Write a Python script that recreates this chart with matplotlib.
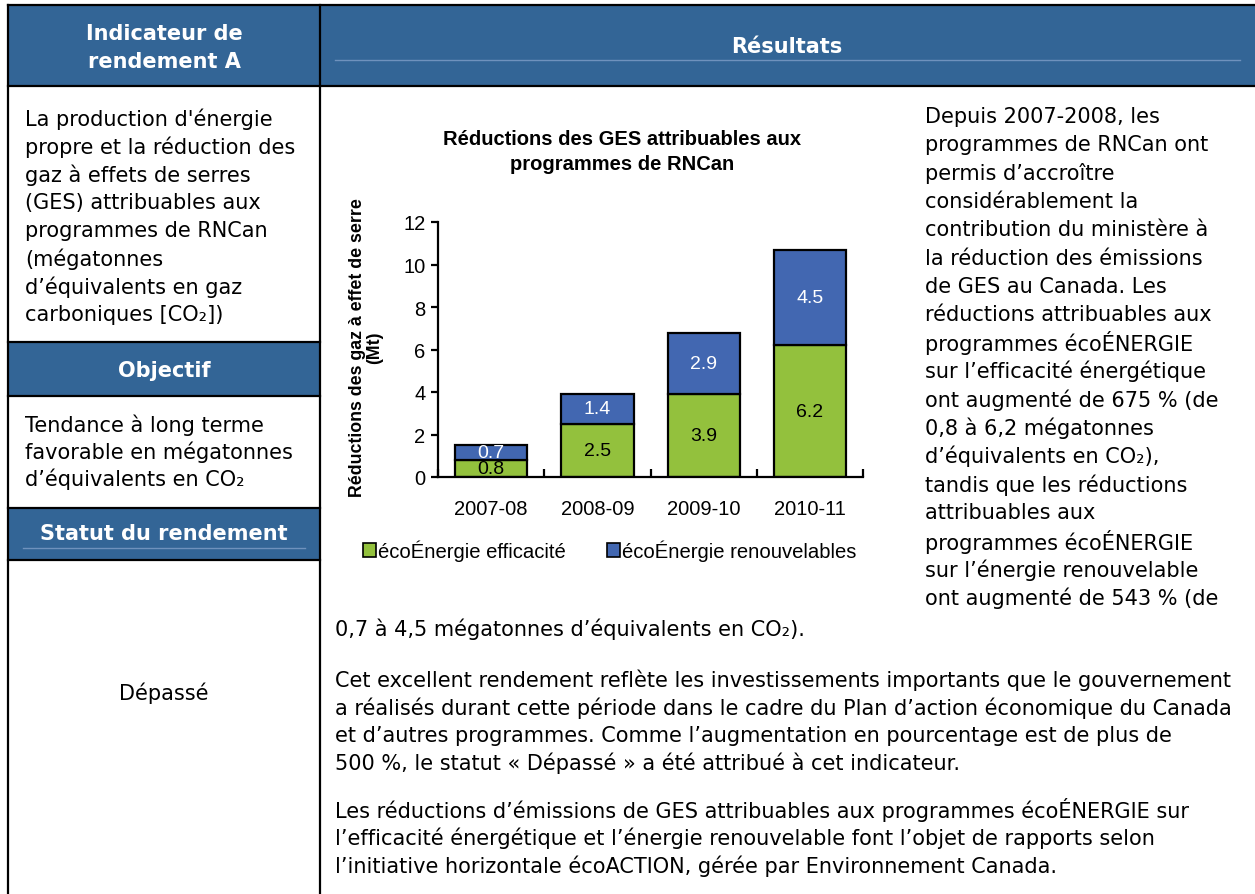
import matplotlib
matplotlib.use("Agg")
import matplotlib.pyplot as plt
from matplotlib.patches import Rectangle, Patch

# chart data
years = ["2007-08", "2008-09", "2009-10", "2010-11"]
efficacite = [0.8, 2.5, 3.9, 6.2]
renouvelables = [0.7, 1.4, 2.9, 4.5]
series_names = ["écoÉnergie efficacité", "écoÉnergie renouvelables"]
yticks = [0, 2, 4, 6, 8, 10, 12]

# table text
left_lines = ["La production d'énergie", "propre et la réduction des",
              "gaz à effets de serres", "(GES) attribuables aux",
              "programmes de RNCan", "(mégatonnes",
              "d’équivalents en gaz", "carboniques [CO₂])"]
objectif_lines = ["Tendance à long terme", "favorable en mégatonnes",
                  "d’équivalents en CO₂"]
right_lines = ["Depuis 2007-2008, les", "programmes de RNCan ont",
               "permis d’accroître", "considérablement la",
               "contribution du ministère à", "la réduction des émissions",
               "de GES au Canada. Les", "réductions attribuables aux",
               "programmes écoÉNERGIE", "sur l’efficacité énergétique",
               "ont augmenté de 675 % (de", "0,8 à 6,2 mégatonnes",
               "d’équivalents en CO₂),", "tandis que les réductions",
               "attribuables aux", "programmes écoÉNERGIE",
               "sur l’énergie renouvelable", "ont augmenté de 543 % (de"]
wide_line = "0,7 à 4,5 mégatonnes d’équivalents en CO₂)."
para2 = ["Cet excellent rendement reflète les investissements importants que le gouvernement",
         "a réalisés durant cette période dans le cadre du Plan d’action économique du Canada",
         "et d’autres programmes. Comme l’augmentation en pourcentage est de plus de",
         "500 %, le statut « Dépassé » a été attribué à cet indicateur."]
para3 = ["Les réductions d’émissions de GES attribuables aux programmes écoÉNERGIE sur",
         "l’efficacité énergétique et l’énergie renouvelable font l’objet de rapports selon",
         "l’initiative horizontale écoACTION, gérée par Environnement Canada."]

W, H = 1255, 895
head = "#336596"
thin = "#6f92bd"
green = "#93c13d"
blue = "#4267b1"

fig = plt.figure(figsize=(W / 100, H / 100), dpi=100)
bg = fig.add_axes([0, 0, 1, 1])
bg.set_xlim(0, W)
bg.set_ylim(H, 0)
bg.axis("off")

body = dict(family="DejaVu Sans", size=15, color="black", va="center")
bold = dict(family="DejaVu Sans", size=15, color="white", weight="bold",
            ha="center", va="center")

# header bands
bg.add_patch(Rectangle((8, 6), W - 8, 81, color=head, lw=0))
bg.add_patch(Rectangle((8, 343), 312, 54, color=head, lw=0))
bg.add_patch(Rectangle((8, 509), 312, 52, color=head, lw=0))
bg.plot([335, 1240], [61, 61], color=thin, lw=1)
bg.plot([23, 305], [549, 549], color=thin, lw=1)

# borders
k = dict(color="black", lw=1.6, solid_capstyle="projecting")
bg.plot([8, W], [6, 6], **k)
bg.plot([8, W], [87, 87], **k)
bg.plot([8, 8], [6, H], **k)
bg.plot([320, 320], [6, H], **k)
for yy in [343, 397, 509, 561]:
    bg.plot([8, 320], [yy, yy], **k)

bg.text(164, 48, "Indicateur de\nrendement A", linespacing=1.45, **bold)
bg.text(787, 47, "Résultats", **bold)
bg.text(164, 371, "Objectif", **bold)
bg.text(164, 534, "Statut du rendement", **bold)

for i, s in enumerate(left_lines):
    bg.text(25, 119 + i * 28, s, **body)
for i, s in enumerate(objectif_lines):
    bg.text(25, 425 + i * 27, s, **body)
bg.text(164, 693, "Dépassé", ha="center", **body)

for i, s in enumerate(right_lines):
    bg.text(925, 117 + i * 28.3, s, **body)
bg.text(335, 629, wide_line, **body)
for i, s in enumerate(para2):
    bg.text(335, 680 + i * 27.8, s, **body)
for i, s in enumerate(para3):
    bg.text(335, 810 + i * 28, s, **body)

# chart
ax = fig.add_axes([438 / W, 1 - 478 / H, 425 / W, 255 / H])
ax.set_facecolor("none")
x = list(range(len(years)))
ax.bar(x, efficacite, width=0.68, color=green, edgecolor="black", lw=1.6,
       label=series_names[0])
ax.bar(x, renouvelables, width=0.68, bottom=efficacite, color=blue,
       edgecolor="black", lw=1.6, label=series_names[1])
for i in x:
    ax.text(i, efficacite[i] / 2, str(efficacite[i]), ha="center", va="center",
            family="Liberation Sans", size=14, color="black")
    ax.text(i, efficacite[i] + renouvelables[i] / 2, str(renouvelables[i]),
            ha="center", va="center", family="Liberation Sans", size=14,
            color="white")

ax.set_xlim(-0.5, 3.5)
ax.set_ylim(0, 12)
ax.set_yticks(yticks)
ax.set_xticks(x)
ax.set_xticklabels(years)
ax.set_xticks([-0.5, 0.5, 1.5, 2.5, 3.5], minor=True)
ax.tick_params(axis="x", which="major", length=0, pad=16)
ax.tick_params(axis="x", which="minor", length=6, width=1.6, direction="in")
ax.tick_params(axis="y", length=5, width=1.6, pad=4)
for lab in ax.get_xticklabels() + ax.get_yticklabels():
    lab.set_family("Liberation Sans")
    lab.set_fontsize(14.5)
for sp in ["top", "right"]:
    ax.spines[sp].set_visible(False)
for sp in ["left", "bottom"]:
    ax.spines[sp].set_linewidth(1.6)

bg.text(622, 152, "Réductions des GES attribuables aux\nprogrammes de RNCan",
        ha="center", va="center", family="Liberation Sans", weight="bold",
        size=14.5, linespacing=1.4)
bg.text(366, 348, "Réductions des gaz à effet de serre\n(Mt)", rotation=90,
        ha="center", va="center", family="Liberation Sans", weight="bold",
        size=12.8, linespacing=1.0)

handles = [Patch(facecolor=green, edgecolor="black", lw=1.2),
           Patch(facecolor=blue, edgecolor="black", lw=1.2)]
ax.legend(handles, series_names, loc="center left", bbox_to_anchor=(363, 551),
          bbox_transform=bg.transData, ncol=2, frameon=False,
          handlelength=0.65, handleheight=0.7, handletextpad=0.1,
          columnspacing=2.0, borderpad=0, borderaxespad=0,
          prop={"family": "Liberation Sans", "size": 14.6})

fig.savefig("out.png", dpi=100)
